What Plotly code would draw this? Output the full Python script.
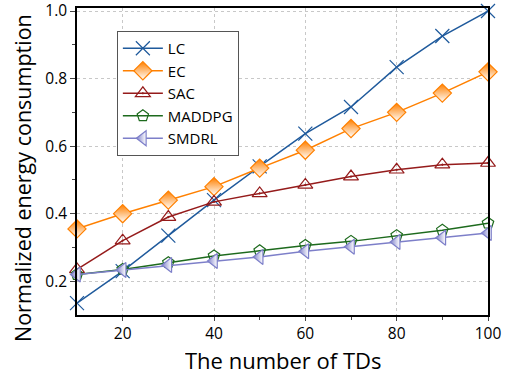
import plotly.graph_objects as go

x_tds = [10, 20, 30, 40, 50, 60, 70, 80, 90, 100]
lc = [0.135, 0.23, 0.335, 0.44, 0.54, 0.637, 0.716, 0.834, 0.926, 1.0]
ec = [0.355, 0.40, 0.44, 0.48, 0.535, 0.588, 0.652, 0.70, 0.757, 0.82]
sac = [0.235, 0.32, 0.39, 0.435, 0.46, 0.485, 0.51, 0.53, 0.545, 0.55]
maddpg = [0.22, 0.235, 0.255, 0.275, 0.29, 0.306, 0.318, 0.335, 0.351, 0.372]
smdrl = [0.22, 0.233, 0.248, 0.26, 0.272, 0.289, 0.302, 0.316, 0.329, 0.343]

series = [
    ("LC", lc, "#1f5a9c", dict(symbol="x-thin-open", size=14, line=dict(width=1.2, color="#1f5a9c"))),
    ("EC", ec, "#ff8000", dict(symbol="diamond", size=14, color="#ff8000",
                                 gradient=dict(type="vertical", color="white"),
                                 line=dict(width=1.2, color="#ff8000"))),
    ("SAC", sac, "#951b1b", dict(symbol="triangle-up-open-dot", size=13, line=dict(width=1.2, color="#951b1b"))),
    ("MADDPG", maddpg, "#1d6a1d", dict(symbol="pentagon-open", size=12, line=dict(width=1.2, color="#1d6a1d"))),
    ("SMDRL", smdrl, "#7d7fc9", dict(symbol="triangle-left", size=13, color="#7d7fc9",
                                     gradient=dict(type="horizontal", color="white"),
                                     line=dict(width=1.2, color="#7d7fc9"))),
]

fig = go.Figure()
for name, vals, col, mk in series:
    fig.add_trace(go.Scatter(x=x_tds, y=vals, name=name, mode="lines+markers",
                             line=dict(color=col, width=1.5), marker=mk, cliponaxis=False))

font_family = "Open Sans, DejaVu Sans, sans-serif"
fig.update_layout(
    width=514, height=375,
    margin=dict(l=77, r=26, t=8, b=60),
    plot_bgcolor="white", paper_bgcolor="white",
    font=dict(family=font_family, color="black", size=15),
    showlegend=True,
    legend=dict(x=0.097, y=0.925, xanchor="left", yanchor="top",
                bordercolor="#555555", borderwidth=1, bgcolor="white",
                font=dict(size=15), itemwidth=40, tracegroupgap=0),
    xaxis=dict(range=[10, 100], tickvals=[20, 40, 60, 80, 100],
               showgrid=True, gridcolor="#c8c8c8", griddash="dot", gridwidth=1,
               showline=True, linecolor="black", linewidth=1.5, mirror=True,
               ticks="outside", ticklen=4, tickwidth=1.2,
               minor=dict(tickvals=[30, 50, 70, 90], ticks="outside", ticklen=3, showgrid=False),
               tickfont=dict(size=15.5), automargin=False, ticklabeloverflow="allow",
               zeroline=False),
    yaxis=dict(range=[0.1, 1.009], tickvals=[0.2, 0.4, 0.6, 0.8, 1.0], ticktext=["0.2", "0.4", "0.6", "0.8", "1.0"],
               showgrid=True, gridcolor="#c8c8c8", griddash="dot", gridwidth=1,
               showline=True, linecolor="black", linewidth=1.5, mirror=True,
               ticks="outside", ticklen=5, tickwidth=1.2,
               minor=dict(tickvals=[0.3, 0.5, 0.7, 0.9], ticks="outside", ticklen=3, showgrid=False),
               tickfont=dict(size=15.5), automargin=False, ticklabeloverflow="allow",
               zeroline=False),
    annotations=[
        dict(text="The number of TDs", xref="paper", yref="paper", x=0.5, y=-0.147,
             xanchor="center", yanchor="middle", showarrow=False, font=dict(size=22), height=26),
        dict(text="Normalized energy consumption", xref="paper", yref="paper", x=-0.134, y=0.446,
             xanchor="center", yanchor="middle", showarrow=False, textangle=-90, font=dict(size=21.5)),
    ],
)

fig.write_html("out.html", config={"displayModeBar": False},
               post_script="document.body.style.margin='0';document.body.style.padding='0';")
